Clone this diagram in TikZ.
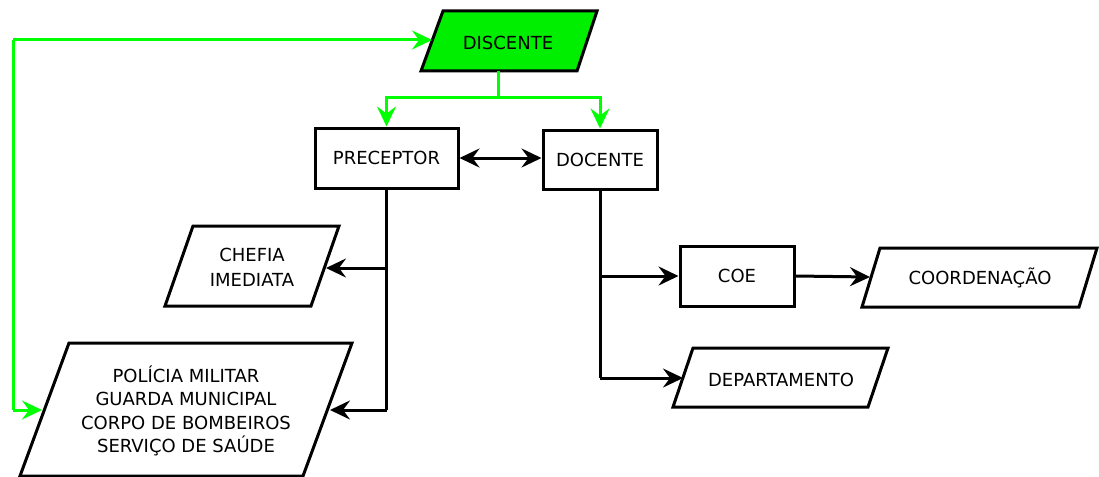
\documentclass[tikz,border=0pt]{standalone}
\usepackage{fontspec}
\setmainfont{DejaVu Sans}
\usetikzlibrary{arrows.meta}
\definecolor{lgreen}{HTML}{00FF00}
\definecolor{fgreen}{HTML}{00EE00}
\tikzset{
  conn/.style={line width=3pt,-{Stealth[length=20pt,width=19pt,inset=7pt]}},
  dconn/.style={line width=3pt,{Stealth[length=20pt,width=19pt,inset=7pt]}-{Stealth[length=20pt,width=19pt,inset=7pt]}},
  gconn/.style={conn,lgreen},
  wire/.style={line width=3pt},
  box/.style={draw,line width=3pt,fill=white},
  lbl/.style={font=\fontsize{18}{25}\selectfont,align=center,inner sep=0pt},
}
\begin{document}
\begin{tikzpicture}[x=1pt,y=-1pt]
\useasboundingbox (0,0) rectangle (1099,476);
% DISCENTE
\draw[box,fill=fgreen] (443,11) -- (597,11) -- (577,71) -- (421,71) -- cycle;
\node[lbl] (disc) at (508,43) {DISCENTE};
\coordinate (discL) at (432,40);
\coordinate (discB) at (498,71);
% PRECEPTOR
\node[box,minimum width=143pt,minimum height=60pt,inner sep=0pt] (prec) at (386.5,158) {};
\node[lbl] at (prec) {PRECEPTOR};
% DOCENTE
\node[box,minimum width=114pt,minimum height=59pt,inner sep=0pt] (doc) at (600,159.5) {};
\node[lbl] at (doc) {DOCENTE};
% CHEFIA
\draw[box] (193,226) -- (339,226) -- (311,306) -- (165,306) -- cycle;
\node[lbl] (chef) at (252,267) {CHEFIA\\IMEDIATA};
\coordinate (chefR) at (326,268);
% POLICIA
\draw[box] (69,343) -- (352,343) -- (303,476) -- (20,476) -- cycle;
\node[lbl,font=\fontsize{18}{23.5}\selectfont] (pol) at (186,411) {POLÍCIA MILITAR\\GUARDA MUNICIPAL\\CORPO DE BOMBEIROS\\SERVIÇO DE SAÚDE};
\coordinate (polL) at (42,410);
\coordinate (polR) at (330,410);
% COE
\node[box,minimum width=114pt,minimum height=60pt,inner sep=0pt] (coe) at (737,276) {};
\node[lbl] at (coe) {COE};
% COORDENACAO
\draw[box] (880,248) -- (1097,248) -- (1079,307) -- (862,307) -- cycle;
\node[lbl] (coord) at (980,278) {COORDENAÇÃO};
\coordinate (coordL) at (870,277);
% DEPARTAMENTO
\draw[box] (693,348) -- (888,348) -- (868,407) -- (673,407) -- cycle;
\node[lbl] (dep) at (781,380) {DEPARTAMENTO};
\coordinate (depL) at (683,378);
% green connectors
\coordinate (gc) at (13,40);
\coordinate (gd) at (13,410);
\draw[gconn] (gc) -- (discL);
\draw[wire,lgreen] (gc) -- (gd);
\draw[gconn] (gd) -- (polL);
\draw[gconn] (discB) -- (498,98) -| (prec.north);
\draw[gconn] (discB) -- (498,98) -| (doc.north);
% black connectors
\draw[dconn] (prec.east) -- (doc.west |- prec.east);
\draw[wire] (prec.south) -- (386.5,410);
\draw[conn] (386.5,268) -- (chefR);
\draw[conn] (386.5,410) -- (polR);
\draw[wire] (doc.south) -- (600,378);
\draw[conn] (600,276) -- (coe.west);
\draw[conn] (600,378) -- (depL);
\draw[conn] (coe.east) -- (coordL);
\end{tikzpicture}
\end{document}
